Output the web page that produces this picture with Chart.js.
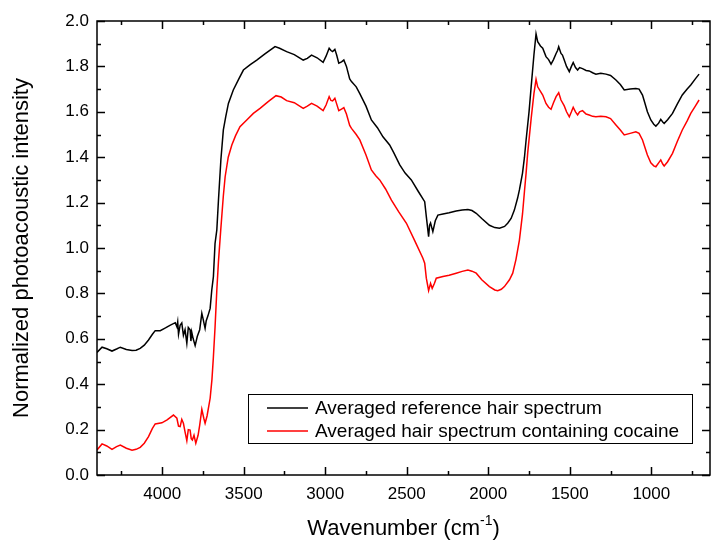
<!DOCTYPE html>
<html>
<head>
<meta charset="utf-8">
<script src="https://cdn.jsdelivr.net/npm/chart.js@4.4.0/dist/chart.umd.min.js"></script>
<style>
  html, body { margin: 0; padding: 0; background: #fff; }
  #wrap { width: 711px; height: 543px; }
</style>
</head>
<body>
<div id="wrap"><canvas id="myChart"></canvas></div>
<script>
// averaged reference hair spectrum (black)
const refWn = [4400, 4369, 4340, 4308, 4280, 4257, 4220, 4185, 4160, 4135, 4110, 4084, 4060, 4043, 4012,
  3980, 3950, 3920, 3910, 3905, 3900, 3890, 3880, 3870, 3860, 3849, 3840, 3829, 3824, 3819, 3810, 3798,
  3785, 3770, 3757, 3750, 3737, 3730, 3720, 3706, 3696, 3686, 3676, 3665, 3655, 3640, 3625, 3610, 3594,
  3564, 3530, 3502, 3460, 3420, 3370, 3308, 3280, 3237, 3190, 3135, 3110, 3084, 3050, 3013, 2995, 2976,
  2965, 2955, 2941, 2930, 2917, 2900, 2886, 2870, 2850, 2839, 2810, 2788, 2750, 2717, 2680, 2646, 2605,
  2580, 2543, 2510, 2472, 2430, 2390, 2380, 2366, 2360, 2354, 2340, 2325, 2309, 2278, 2240, 2197, 2160,
  2125, 2100, 2074, 2040, 1993, 1960, 1931, 1900, 1881, 1860, 1840, 1820, 1809, 1790, 1778, 1768, 1750,
  1737, 1720, 1707, 1697, 1680, 1666, 1646, 1630, 1615, 1600, 1584, 1575, 1568, 1554, 1545, 1534, 1520,
  1503, 1490, 1479, 1465, 1452, 1440, 1422, 1400, 1381, 1360, 1340, 1310, 1278, 1250, 1217, 1190, 1166,
  1130, 1095, 1075, 1054, 1040, 1024, 1003, 985, 972, 955, 942, 930, 921, 900, 870, 840, 810, 780, 758,
  730, 707];
const refVal = [0.540, 0.563, 0.556, 0.546, 0.555, 0.563, 0.553, 0.548, 0.550, 0.558, 0.572, 0.595, 0.620, 0.636, 0.636,
  0.648, 0.660, 0.671, 0.653, 0.675, 0.620, 0.660, 0.670, 0.615, 0.640, 0.580, 0.650, 0.640, 0.590, 0.630, 0.600, 0.570,
  0.610, 0.640, 0.712, 0.690, 0.646, 0.680, 0.700, 0.734, 0.815, 0.874, 1.020, 1.080, 1.210, 1.390, 1.520, 1.580, 1.637,
  1.696, 1.745, 1.784, 1.808, 1.828, 1.855, 1.887, 1.880, 1.865, 1.852, 1.828, 1.835, 1.850, 1.838, 1.818, 1.845, 1.880,
  1.870, 1.865, 1.875, 1.850, 1.814, 1.820, 1.828, 1.800, 1.745, 1.733, 1.710, 1.680, 1.625, 1.564, 1.530, 1.490, 1.454,
  1.420, 1.366, 1.330, 1.300, 1.250, 1.204, 1.138, 1.050, 1.100, 1.110, 1.072, 1.120, 1.145, 1.150, 1.155, 1.163, 1.167,
  1.170, 1.165, 1.153, 1.130, 1.100, 1.090, 1.087, 1.095, 1.109, 1.130, 1.167, 1.220, 1.256, 1.330, 1.400, 1.476, 1.600,
  1.710, 1.850, 1.943, 1.909, 1.890, 1.880, 1.843, 1.830, 1.810, 1.830, 1.857, 1.870, 1.887, 1.857, 1.850, 1.828, 1.800,
  1.777, 1.800, 1.817, 1.795, 1.784, 1.795, 1.790, 1.782, 1.780, 1.772, 1.766, 1.770, 1.766, 1.760, 1.740, 1.720, 1.696,
  1.700, 1.703, 1.700, 1.674, 1.640, 1.600, 1.564, 1.545, 1.537, 1.550, 1.567, 1.555, 1.549, 1.565, 1.593, 1.635, 1.674, 1.700, 1.718,
  1.745, 1.766];

// averaged hair spectrum containing cocaine (red)
const cocWn = [4400, 4369, 4340, 4308, 4280, 4257, 4220, 4185, 4160, 4135, 4110, 4084, 4060, 4043, 4002,
  3970, 3931, 3910, 3900, 3890, 3880, 3870, 3860, 3849, 3840, 3829, 3822, 3815, 3805, 3794, 3780, 3770,
  3757, 3745, 3737, 3725, 3706, 3695, 3686, 3676, 3665, 3655, 3641, 3625, 3614, 3595, 3573, 3550, 3523,
  3480, 3441, 3400, 3350, 3302, 3270, 3237, 3190, 3135, 3110, 3084, 3050, 3013, 2995, 2976, 2965, 2955,
  2941, 2930, 2917, 2900, 2886, 2870, 2850, 2839, 2810, 2788, 2750, 2717, 2690, 2666, 2630, 2594, 2550,
  2502, 2450, 2401, 2390, 2380, 2366, 2354, 2344, 2330, 2319, 2278, 2240, 2197, 2160, 2125, 2100, 2074,
  2040, 1993, 1960, 1942, 1920, 1901, 1870, 1850, 1830, 1809, 1790, 1778, 1768, 1758, 1737, 1720, 1707,
  1697, 1680, 1666, 1646, 1630, 1615, 1600, 1584, 1568, 1554, 1534, 1520, 1503, 1490, 1479, 1465, 1452,
  1440, 1422, 1400, 1381, 1360, 1340, 1310, 1278, 1250, 1217, 1190, 1166, 1130, 1095, 1075, 1054, 1040,
  1024, 1003, 985, 972, 955, 942, 930, 921, 900, 870, 840, 810, 780, 758, 730, 707];
const cocVal = [0.110, 0.137, 0.128, 0.113, 0.125, 0.132, 0.118, 0.109, 0.113, 0.122, 0.140, 0.169, 0.205, 0.225, 0.230,
  0.243, 0.264, 0.250, 0.215, 0.213, 0.245, 0.228, 0.190, 0.151, 0.200, 0.198, 0.160, 0.154, 0.175, 0.140, 0.175, 0.220,
  0.289, 0.250, 0.228, 0.260, 0.338, 0.420, 0.521, 0.650, 0.815, 0.940, 1.080, 1.230, 1.314, 1.400, 1.454, 1.495, 1.534,
  1.565, 1.593, 1.615, 1.645, 1.671, 1.665, 1.649, 1.640, 1.615, 1.625, 1.637, 1.625, 1.605, 1.630, 1.667, 1.650, 1.648,
  1.660, 1.635, 1.605, 1.612, 1.618, 1.590, 1.540, 1.527, 1.500, 1.476, 1.410, 1.344, 1.318, 1.300, 1.260, 1.211, 1.160,
  1.109, 1.030, 0.955, 0.933, 0.867, 0.812, 0.844, 0.822, 0.845, 0.867, 0.874, 0.880, 0.889, 0.897, 0.903, 0.898, 0.889,
  0.860, 0.830, 0.815, 0.812, 0.818, 0.830, 0.860, 0.889, 0.950, 1.035, 1.150, 1.250, 1.330, 1.420, 1.570, 1.680, 1.743,
  1.710, 1.690, 1.674, 1.637, 1.620, 1.611, 1.640, 1.667, 1.684, 1.652, 1.626, 1.600, 1.578, 1.600, 1.620, 1.600, 1.586,
  1.600, 1.605, 1.590, 1.586, 1.580, 1.578, 1.580, 1.578, 1.570, 1.542, 1.520, 1.498, 1.505, 1.512, 1.505, 1.476, 1.445,
  1.410, 1.375, 1.362, 1.358, 1.375, 1.388, 1.370, 1.361, 1.380, 1.417, 1.470, 1.520, 1.560, 1.593, 1.625, 1.652];

const seriesLabels = ['Averaged reference hair spectrum', 'Averaged hair spectrum containing cocaine'];
const seriesColors = ['#000000', '#ff0000'];

const xTicks = [4000, 3500, 3000, 2500, 2000, 1500, 1000];
const xMinor = [4250, 3750, 3250, 2750, 2250, 1750, 1250, 750];
const yTicks = [0, 0.2, 0.4, 0.6, 0.8, 1.0, 1.2, 1.4, 1.6, 1.8, 2.0];
const yMinor = [0.1, 0.3, 0.5, 0.7, 0.9, 1.1, 1.3, 1.5, 1.7, 1.9];

const FONT = '"Liberation Sans", Arial, sans-serif';

function toPoints(xs, ys) {
    return xs.map((v, i) => ({ x: v, y: ys[i] }));
}

// frame, inward ticks, legend and x title
const framePlugin = {
    id: 'frame',
    afterDatasetsDraw(chart) {
        const { ctx, chartArea: a, scales: { x, y } } = chart;
        ctx.save();
        ctx.strokeStyle = '#000';
        ctx.lineWidth = 1.5;
        ctx.strokeRect(a.left, a.top, a.right - a.left, a.bottom - a.top);

        ctx.beginPath();
        const xt = (v, len) => {
            const p = Math.round(x.getPixelForValue(v)) + 0.5;
            ctx.moveTo(p, a.bottom); ctx.lineTo(p, a.bottom - len);
            ctx.moveTo(p, a.top); ctx.lineTo(p, a.top + len);
        };
        const yt = (v, len) => {
            const p = Math.round(y.getPixelForValue(v)) + 0.5;
            ctx.moveTo(a.left, p); ctx.lineTo(a.left + len, p);
            ctx.moveTo(a.right, p); ctx.lineTo(a.right - len, p);
        };
        xTicks.forEach(v => xt(v, 8));
        xMinor.forEach(v => xt(v, 4));
        yTicks.forEach(v => yt(v, 8));
        yMinor.forEach(v => yt(v, 4));
        ctx.stroke();

        // legend box
        ctx.lineWidth = 1;
        ctx.strokeRect(248.5, 394.5, 444, 49);
        ctx.font = '19px ' + FONT;
        ctx.textBaseline = 'middle';
        ctx.textAlign = 'left';
        chart.data.datasets.forEach((ds, i) => {
            const yy = 408 + i * 23;
            ctx.strokeStyle = ds.borderColor;
            ctx.lineWidth = 1.5;
            ctx.beginPath();
            ctx.moveTo(267, yy); ctx.lineTo(308, yy);
            ctx.stroke();
            ctx.fillStyle = '#000';
            ctx.fillText(ds.label, 315, yy + 1);
        });

        // x axis title with superscript
        const main = 'Wavenumber (cm', sup = '-1', tail = ')';
        ctx.font = '22px ' + FONT;
        const w1 = ctx.measureText(main).width, w3 = ctx.measureText(tail).width;
        ctx.font = '14px ' + FONT;
        const w2 = ctx.measureText(sup).width;
        let sx = (a.left + a.right) / 2 - (w1 + w2 + w3) / 2;
        const by = 535;
        ctx.fillStyle = '#000';
        ctx.textBaseline = 'alphabetic';
        ctx.font = '22px ' + FONT;
        ctx.fillText(main, sx, by);
        ctx.font = '14px ' + FONT;
        ctx.fillText(sup, sx + w1, by - 10);
        ctx.font = '22px ' + FONT;
        ctx.fillText(tail, sx + w1 + w2, by);
        ctx.restore();
    }
};

document.addEventListener('DOMContentLoaded', function() {
    const ctx = document.getElementById('myChart').getContext('2d');
    new Chart(ctx, {
        type: 'line',
        plugins: [framePlugin],
        data: {
            datasets: [{
                label: seriesLabels[0],
                data: toPoints(refWn, refVal),
                borderColor: seriesColors[0],
                borderWidth: 1.5,
                pointRadius: 0,
                tension: 0,
                fill: false
            }, {
                label: seriesLabels[1],
                data: toPoints(cocWn, cocVal),
                borderColor: seriesColors[1],
                borderWidth: 1.5,
                pointRadius: 0,
                tension: 0,
                fill: false
            }]
        },
        options: {
            responsive: true,
            maintainAspectRatio: false,
            animation: false,
            layout: { padding: { top: 21, right: 1, left: 0, bottom: 0 } },
            plugins: {
                legend: { display: false },
                tooltip: { enabled: false }
            },
            scales: {
                x: {
                    type: 'linear',
                    reverse: true,
                    min: 640,
                    max: 4400,
                    afterBuildTicks: s => { s.ticks = xTicks.map(v => ({ value: v })); },
                    afterFit: s => { s.height = 68; },
                    grid: { display: false, drawTicks: false },
                    border: { display: false },
                    ticks: {
                        color: '#000',
                        font: { family: FONT, size: 17 },
                        padding: 9,
                        maxRotation: 0,
                        autoSkip: false,
                        callback: v => String(v)
                    }
                },
                y: {
                    min: 0,
                    max: 2,
                    afterBuildTicks: s => { s.ticks = yTicks.map(v => ({ value: v })); },
                    afterFit: s => { s.width = 97; },
                    grid: { display: false, drawTicks: false },
                    border: { display: false },
                    title: {
                        display: true,
                        text: 'Normalized photoacoustic intensity',
                        color: '#000',
                        font: { family: FONT, size: 22 },
                        padding: { top: 9, bottom: 0 }
                    },
                    ticks: {
                        color: '#000',
                        font: { family: FONT, size: 17 },
                        padding: 8,
                        callback: v => v.toFixed(1)
                    }
                }
            }
        }
    });
});
</script>
</body>
</html>
